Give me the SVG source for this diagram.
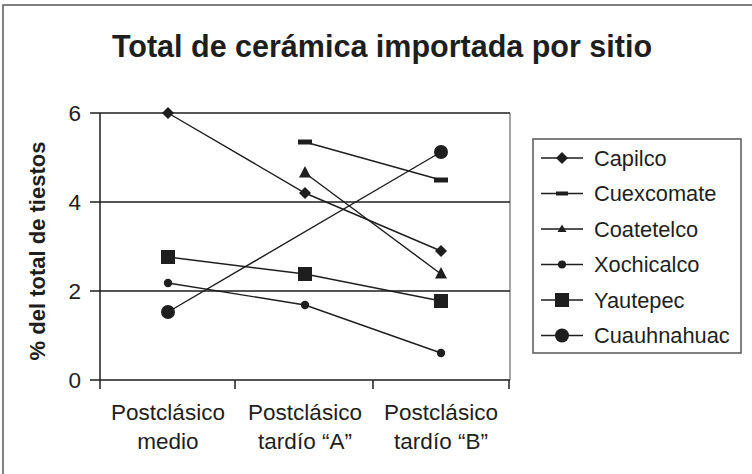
<svg xmlns="http://www.w3.org/2000/svg" width="752" height="474" viewBox="0 0 752 474">
<defs>
<style>
text{font-family:"Liberation Sans",Arial,sans-serif;fill:#1e1e1e}
.t{font-size:22.5px}
.lg{font-size:21.8px}
.title{font-size:30.5px;font-weight:bold}
.ax{stroke:#1e1e1e;stroke-width:1.5;fill:none}
.ser{stroke:#1e1e1e;stroke-width:1.4;fill:none}
.mk{fill:#1e1e1e;stroke:none}
</style>
<path id="dia" d="M0,-6 L6,0 L0,6 L-6,0 Z"/>
<rect id="dash" x="-7" y="-2.5" width="14" height="5"/>
<path id="tri" d="M0,-7 L6,4.5 L-6,4.5 Z"/>
<circle id="sc" r="4.2"/>
<rect id="sq" x="-7" y="-7" width="14" height="14"/>
<circle id="bc" r="7"/>
</defs>
<rect width="752" height="474" fill="#fff"/>
<path d="M3,480 V5 H760" fill="none" stroke="#555" stroke-width="1.5"/>
<text class="title" x="382" y="57" text-anchor="middle">Total de cerámica importada por sitio</text>

<g id="axes">
<line x1="510" y1="113" x2="510" y2="380" stroke="#888" stroke-width="1.5"/>
<path class="ax" d="M90,113 H510 M90,202 H510 M90,291 H510 M90,380 H510 M100,113 V389 M235,380 V389 M373,380 V389 M509,380 V389"/>
<g class="t" text-anchor="end">
<text x="81" y="121">6</text>
<text x="81" y="210">4</text>
<text x="81" y="299">2</text>
<text x="81" y="388">0</text>
</g>
<text x="0" y="0" transform="translate(45,251) rotate(-90)" text-anchor="middle" style="font-size:22px;font-weight:bold">% del total de tiestos</text>
<g class="t" text-anchor="middle">
<text x="168" y="420">Postclásico</text>
<text x="168" y="449">medio</text>
<text x="305" y="420">Postclásico</text>
<text x="305" y="449">tardío “A”</text>
<text x="441" y="420">Postclásico</text>
<text x="441" y="449">tardío “B”</text>
</g>
</g>

<g id="connectors">
<polyline class="ser" points="168,113 305,193 441,251"/>
<polyline class="ser" points="305,142 441,180"/>
<polyline class="ser" points="305,173 441,274"/>
<polyline class="ser" points="168,283 305,305 441,353"/>
<polyline class="ser" points="168,257 305,274 441,301"/>
<polyline class="ser" points="168,312 441,152"/>
</g>

<g id="capilco" class="mk">
<use href="#dia" x="168" y="113"/><use href="#dia" x="305" y="193"/><use href="#dia" x="441" y="251"/>
</g>
<g id="cuexcomate" class="mk">
<use href="#dash" x="305" y="142"/><use href="#dash" x="441" y="180"/>
</g>
<g id="coatetelco" class="mk">
<use href="#tri" x="305" y="173"/><use href="#tri" x="441" y="274"/>
</g>
<g id="xochicalco" class="mk">
<use href="#sc" x="168" y="283"/><use href="#sc" x="305" y="305"/><use href="#sc" x="441" y="353"/>
</g>
<g id="yautepec" class="mk">
<use href="#sq" x="168" y="257"/><use href="#sq" x="305" y="274"/><use href="#sq" x="441" y="301"/>
</g>
<g id="cuauhnahuac" class="mk">
<use href="#bc" x="168" y="312"/><use href="#bc" x="441" y="152"/>
</g>

<g id="legend">
<rect x="533" y="139" width="208" height="214" fill="#fff" stroke="#555" stroke-width="1.5"/>
<g class="ser">
<path d="M541,158 H583 M541,193.5 H583 M541,229 H583 M541,264.5 H583 M541,300 H583 M541,335.5 H583"/>
</g>
<g class="mk">
<use href="#dia" x="562" y="158"/>
<rect x="556" y="191.5" width="12" height="4"/>
<path d="M562,224.5 L566.5,232 L557.5,232 Z"/>
<circle cx="562" cy="264.5" r="4"/>
<use href="#sq" x="562" y="300"/>
<use href="#bc" x="562" y="335.5"/>
</g>
<g class="lg">
<text x="594" y="165.5">Capilco</text>
<text x="594" y="201">Cuexcomate</text>
<text x="594" y="236.5">Coatetelco</text>
<text x="594" y="272">Xochicalco</text>
<text x="594" y="307.5">Yautepec</text>
<text x="594" y="343">Cuauhnahuac</text>
</g>
</g>
</svg>
